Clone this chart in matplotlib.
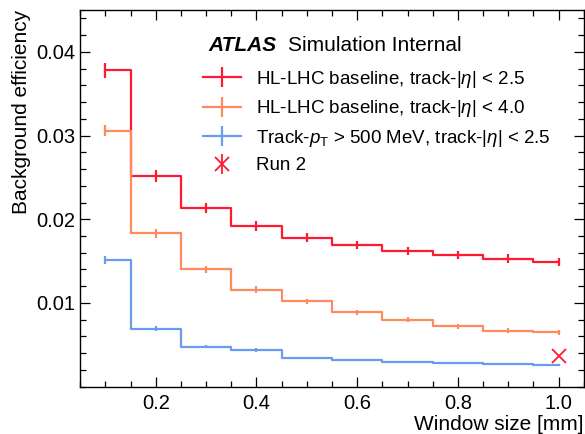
import matplotlib
matplotlib.use("Agg")
import matplotlib.pyplot as plt
from matplotlib.ticker import MultipleLocator
from matplotlib.lines import Line2D
from matplotlib.legend_handler import HandlerTuple

plt.rcParams['font.family'] = ['Liberation Sans', 'DejaVu Sans']
plt.rcParams['mathtext.fontset'] = 'custom'
plt.rcParams['mathtext.rm'] = 'Liberation Sans'
plt.rcParams['mathtext.it'] = 'Liberation Sans:italic'
plt.rcParams['mathtext.bf'] = 'Liberation Sans:bold'

# Window sizes [mm]
window = [0.1, 0.2, 0.3, 0.4, 0.5, 0.6, 0.7, 0.8, 0.9, 1.0]

# Background efficiency per configuration
eff_eta25 = [0.0378, 0.0252, 0.0213, 0.0192, 0.0178, 0.0169, 0.0162, 0.0157, 0.0153, 0.0149]
err_eta25 = [0.0009, 0.0007, 0.0006, 0.0006, 0.0005, 0.0005, 0.0005, 0.0005, 0.0005, 0.0005]

eff_eta40 = [0.0306, 0.0183, 0.0140, 0.0116, 0.0102, 0.0089, 0.0080, 0.0072, 0.0067, 0.0065]
err_eta40 = [0.0007, 0.0005, 0.0004, 0.0004, 0.0003, 0.0003, 0.0003, 0.0003, 0.0003, 0.0003]

eff_pt500 = [0.0151, 0.0069, 0.0048, 0.0044, 0.0034, 0.0032, 0.0030, 0.0028, 0.0027, 0.0026]
err_pt500 = [0.0005, 0.0003, 0.0002, 0.0002, 0.0001, 0.0001, 0.0001, 0.0001, 0.0001, 0.0001]

run2_window = [1.0]
run2_eff = [0.0037]

yticks = [0.01, 0.02, 0.03, 0.04]

labels = [
    r"HL-LHC baseline, track-$|\eta|$ < 2.5",
    r"HL-LHC baseline, track-$|\eta|$ < 4.0",
    r"Track-$p_\mathrm{T}$ > 500 MeV, track-$|\eta|$ < 2.5",
    "Run 2",
]
colors = ["#ff1a33", "#ff8a60", "#6a9bee"]
lw = 1.6

fig = plt.figure(figsize=(5.85, 4.34), dpi=100)
ax = fig.add_axes([0.137, 0.109, 0.861, 0.868])

series = [(eff_eta25, err_eta25), (eff_eta40, err_eta40), (eff_pt500, err_pt500)]
handles = []
for (eff, err), c in zip(series, colors):
    ax.step(window, eff, where='mid', color=c, lw=lw)
    ax.errorbar(window, eff, yerr=err, fmt='none', ecolor=c, elinewidth=lw, capsize=0)
    handles.append(Line2D([], [], color=c, lw=lw, marker='|', ms=14, mew=lw))

ax.plot(run2_window, run2_eff, ls='none', marker='x', color=colors[0], ms=10, mew=1.3)
run2_handle = (Line2D([], [], ls='none', marker='x', color=colors[0], ms=10, mew=1.3),
               Line2D([], [], ls='none', marker='|', color=colors[0], ms=14, mew=1.3))

ax.set_xlim(0.05, 1.05)
ax.set_ylim(0.0, 0.045)
ax.xaxis.set_major_locator(MultipleLocator(0.2))
ax.xaxis.set_minor_locator(MultipleLocator(0.05))
ax.set_yticks(yticks)
ax.yaxis.set_minor_locator(MultipleLocator(0.002))
ax.tick_params(which='both', direction='in', top=True, right=True, labelsize=14.5)
ax.tick_params(which='major', length=7, width=0.9)
ax.tick_params(which='minor', length=4, width=0.9)
ax.tick_params(axis='x', which='major', pad=5)
for s in ax.spines.values():
    s.set_linewidth(1.0)

ax.set_xlabel("Window size [mm]", fontsize=15, loc='right', labelpad=2)
ax.set_ylabel("Background efficiency", fontsize=15, loc='top')

ax.text(0.254, 0.9045, "ATLAS", transform=ax.transAxes, fontsize=15,
        fontweight='bold', fontstyle='italic', va='center')
ax.text(0.4127, 0.9045, "Simulation Internal", transform=ax.transAxes, fontsize=15,
        va='center')

ax.legend(handles=handles + [run2_handle], labels=labels, loc='upper left',
          bbox_to_anchor=(0.244, 0.844), frameon=False, fontsize=13.5,
          handlelength=2.0, handletextpad=0.8, labelspacing=0.45,
          borderaxespad=0.0, borderpad=0.0,
          handler_map={tuple: HandlerTuple(ndivide=1)})

fig.savefig("out.png", dpi=100)
